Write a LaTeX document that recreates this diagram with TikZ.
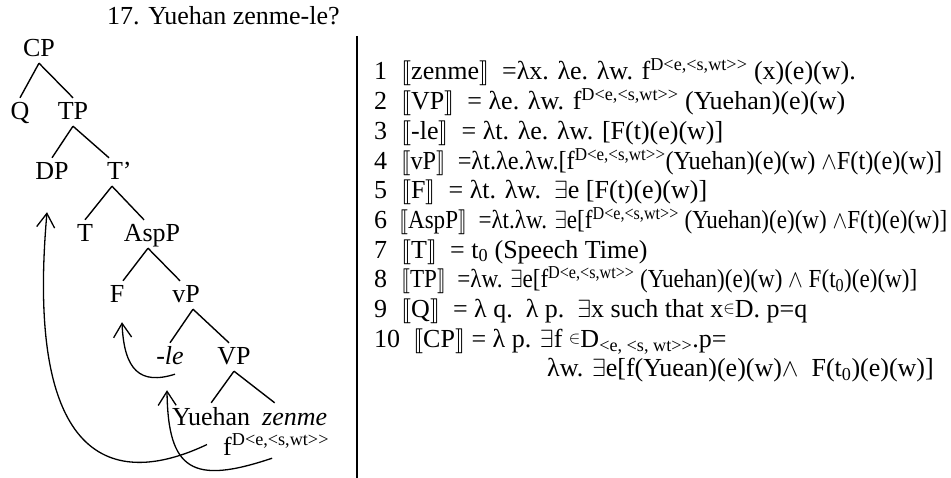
\documentclass[tikz,border=0pt]{standalone}
\usepackage{fontspec}
\setmainfont{Liberation Serif}[Ligatures=TeXOff]
\usepackage{graphicx}
\usepackage{stmaryrd}
\usetikzlibrary{arrows.meta}

\begin{document}
\begin{tikzpicture}[
    x=1pt, y=-1pt,
    every node/.style={font=\fontsize{26}{30}\selectfont},
    cat/.style={inner xsep=2pt, inner ysep=5pt, text height=17pt, text depth=1pt, anchor=base},
    ln/.style={inner sep=0pt, anchor=base west},
    br/.style={line width=1.4pt},
    mv/.style={-{Straight Barb[length=14pt, width=18pt]}, line width=1.3pt}
]
\useasboundingbox (0,0) rectangle (951,478);

% --- Tree ---
\node[ln] (title) at (107,25) {17. Yuehan zenme-le?};
\node[cat] (cp) at (39,57) {CP};
\node[cat] (q) at (20,120) {Q};
\node[cat] (tp) at (73,120) {TP};
\node[cat] (dp) at (52,180) {DP};
\node[cat] (tbar) at (115,180) {T\rlap{’}};
\node[cat] (t) at (85,242) {T};
\node[cat] (asp) at (152,242) {AspP};
\node[cat] (f) at (117,303) {F};
\node[cat] (vp) at (186,303) {vP};
\node[cat] (le) at (170,365) {-\textit{le}};
\node[cat] (vbig) at (234,365) {VP};
\node[cat, anchor=base west] (yuehan) at (170,425) {Yuehan};
\node[cat, anchor=base west] (zenme) at (260,425) {\textit{zenme}};
\node[ln] (fd) at (223,455) {f\textsuperscript{D<e,<s,wt>>}};

\draw[br] (cp.south) -- (q.north);
\draw[br] (cp.south) -- (tp.north);
\draw[br] (tp.south) -- (dp.north);
\draw[br] (tp.south) -- ([xshift=-6pt]tbar.north);
\draw[br] ([xshift=-3pt]tbar.south) -- (t.north);
\draw[br] ([xshift=-3pt]tbar.south) -- ([xshift=-8pt]asp.north);
\draw[br] ([xshift=-4pt]asp.south) -- ([xshift=6pt]f.north);
\draw[br] ([xshift=-4pt]asp.south) -- ([xshift=-6pt]vp.north);
\draw[br] ([xshift=7pt]vp.south) -- (le.north);
\draw[br] ([xshift=7pt]vp.south) -- ([xshift=-5pt]vbig.north);
\draw[br] (vbig.south) -- (yuehan.north);
\draw[br] (vbig.south) -- ([xshift=-20pt]zenme.north);

% --- Movement ---
\draw[mv] ([xshift=-16pt]fd.west) .. controls +(-95,45) and +(-22,250) .. ([xshift=-5pt,yshift=-26pt]dp.south);
\draw[mv] ([xshift=5pt,yshift=-3pt]le.south) .. controls +(-35,11) and +(2,48) .. ([xshift=5pt,yshift=-13pt]f.south);
\draw[mv] ([xshift=-4pt,yshift=-3pt]fd.south) .. controls +(-80,27) and +(1,80) .. ([xshift=-3pt,yshift=-19pt]le.south);

% --- Denotations ---
\draw[line width=2pt] (357,36) -- (357,478);
\foreach \i in {1,...,10}
  \node[ln] (n\i) at (374, {80+(\i-1)*29.7}) {\i};

\node[ln] (l1) at (401,80) {$\llbracket$zenme$\rrbracket$\ \ =λx. λe. λw. f\textsuperscript{D<e,<s,wt>>} (x)(e)(w).};
\node[ln] (l2) at (401,109.7) {$\llbracket$VP$\rrbracket$\ \ = λe. λw. f\textsuperscript{D<e,<s,wt>>} (Yuehan)(e)(w)};
\node[ln] (l3) at (401,139.4) {$\llbracket$-le$\rrbracket$\ \ = λt. λe. λw. [F(t)(e)(w)]};
\node[ln] (l4) at (401,169.1) {\resizebox{541pt}{\height}{$\llbracket$vP$\rrbracket$\ \ =λt.λe.λw.[f\textsuperscript{D<e,<s,wt>>}(Yuehan)(e)(w) $\wedge$F(t)(e)(w)]}};
\node[ln] (l5) at (401,198.8) {$\llbracket$F$\rrbracket$\ \ = λt. λw.\ \ $\exists$e [F(t)(e)(w)]};
\node[ln] (l6) at (399,228.5) {\resizebox{548pt}{\height}{$\llbracket$AspP$\rrbracket$\ \ =λt.λw. $\exists$e[f\textsuperscript{D<e,<s,wt>>} (Yuehan)(e)(w) $\wedge$F(t)(e)(w)]}};
\node[ln] (l7) at (401,258.2) {$\llbracket$T$\rrbracket$\ \ = t\textsubscript{0} (Speech Time)};
\node[ln] (l8) at (401,287.9) {\resizebox{516pt}{\height}{$\llbracket$TP$\rrbracket$\ \ =λw. $\exists$e[f\textsuperscript{D<e,<s,wt>>} (Yuehan)(e)(w) $\wedge$ F(t\textsubscript{0})(e)(w)]}};
\node[ln] (l9) at (401,317.6) {$\llbracket$Q$\rrbracket$\ \ = λ q.\ \ λ p.\ \ $\exists$x such that x\raisebox{4pt}{\fontsize{17}{17}\selectfont$\in$}D. p=q};
\node[ln] (l10) at (413,347.3) {$\llbracket$CP$\rrbracket$ = λ p. $\exists$f \raisebox{4pt}{\fontsize{17}{17}\selectfont$\in$}D\textsubscript{<e, <s, wt>>}.p=};
\node[ln] (l11) at (547,377) {λw. $\exists$e[f(Yuean)(e)(w)$\wedge$\ \ F(t\textsubscript{0})(e)(w)]};
\end{tikzpicture}
\end{document}
